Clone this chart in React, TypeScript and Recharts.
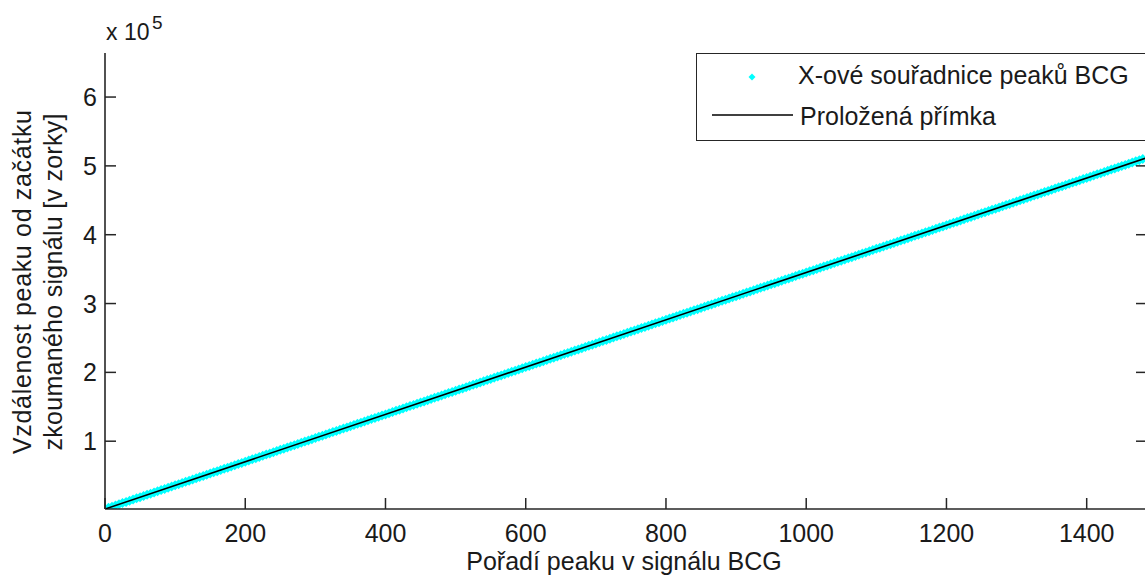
import React from 'react';
import { ComposedChart, Scatter, Line, XAxis, YAxis, Legend } from 'recharts';

// ---- data ----
const peakOrder = [
  0, 5, 10, 15, 20, 25, 30, 35, 40, 45, 50, 55, 60, 65, 70, 75, 80, 85, 90, 95,
  100, 105, 110, 115, 120, 125, 130, 135, 140, 145, 150, 155, 160, 165, 170, 175, 180, 185, 190, 195,
  200, 205, 210, 215, 220, 225, 230, 235, 240, 245, 250, 255, 260, 265, 270, 275, 280, 285, 290, 295,
  300, 305, 310, 315, 320, 325, 330, 335, 340, 345, 350, 355, 360, 365, 370, 375, 380, 385, 390, 395,
  400, 405, 410, 415, 420, 425, 430, 435, 440, 445, 450, 455, 460, 465, 470, 475, 480, 485, 490, 495,
  500, 505, 510, 515, 520, 525, 530, 535, 540, 545, 550, 555, 560, 565, 570, 575, 580, 585, 590, 595,
  600, 605, 610, 615, 620, 625, 630, 635, 640, 645, 650, 655, 660, 665, 670, 675, 680, 685, 690, 695,
  700, 705, 710, 715, 720, 725, 730, 735, 740, 745, 750, 755, 760, 765, 770, 775, 780, 785, 790, 795,
  800, 805, 810, 815, 820, 825, 830, 835, 840, 845, 850, 855, 860, 865, 870, 875, 880, 885, 890, 895,
  900, 905, 910, 915, 920, 925, 930, 935, 940, 945, 950, 955, 960, 965, 970, 975, 980, 985, 990, 995,
  1000, 1005, 1010, 1015, 1020, 1025, 1030, 1035, 1040, 1045, 1050, 1055, 1060, 1065, 1070, 1075, 1080, 1085, 1090, 1095,
  1100, 1105, 1110, 1115, 1120, 1125, 1130, 1135, 1140, 1145, 1150, 1155, 1160, 1165, 1170, 1175, 1180, 1185, 1190, 1195,
  1200, 1205, 1210, 1215, 1220, 1225, 1230, 1235, 1240, 1245, 1250, 1255, 1260, 1265, 1270, 1275, 1280, 1285, 1290, 1295,
  1300, 1305, 1310, 1315, 1320, 1325, 1330, 1335, 1340, 1345, 1350, 1355, 1360, 1365, 1370, 1375, 1380, 1385, 1390, 1395,
  1400, 1405, 1410, 1415, 1420, 1425, 1430, 1435, 1440, 1445, 1450, 1455, 1460, 1465, 1470, 1475, 1480,
];
const peakPosition = [
  1500, 3200, 4900, 6700, 8400, 10100, 11800, 13500, 15200, 17000, 18700, 20400, 22100, 23800, 25600, 27300, 29000, 30700, 32400, 34100,
  35900, 37600, 39300, 41000, 42700, 44500, 46200, 47900, 49600, 51300, 53000, 54800, 56500, 58200, 59900, 61600, 63300, 65100, 66800, 68500,
  70200, 71900, 73700, 75400, 77100, 78800, 80500, 82200, 84000, 85700, 87400, 89100, 90800, 92600, 94300, 96000, 97700, 99400, 101100, 102900,
  104600, 106300, 108000, 109700, 111500, 113200, 114900, 116600, 118300, 120000, 121800, 123500, 125200, 126900, 128600, 130400, 132100, 133800, 135500, 137200,
  138900, 140700, 142400, 144100, 145800, 147500, 149200, 151000, 152700, 154400, 156100, 157800, 159600, 161300, 163000, 164700, 166400, 168100, 169900, 171600,
  173300, 175000, 176700, 178500, 180200, 181900, 183600, 185300, 187000, 188800, 190500, 192200, 193900, 195600, 197400, 199100, 200800, 202500, 204200, 205900,
  207700, 209400, 211100, 212800, 214500, 216300, 218000, 219700, 221400, 223100, 224800, 226600, 228300, 230000, 231700, 233400, 235100, 236900, 238600, 240300,
  242000, 243700, 245500, 247200, 248900, 250600, 252300, 254000, 255800, 257500, 259200, 260900, 262600, 264400, 266100, 267800, 269500, 271200, 272900, 274700,
  276400, 278100, 279800, 281500, 283300, 285000, 286700, 288400, 290100, 291800, 293600, 295300, 297000, 298700, 300400, 302200, 303900, 305600, 307300, 309000,
  310700, 312500, 314200, 315900, 317600, 319300, 321000, 322800, 324500, 326200, 327900, 329600, 331400, 333100, 334800, 336500, 338200, 339900, 341700, 343400,
  345100, 346800, 348500, 350300, 352000, 353700, 355400, 357100, 358800, 360600, 362300, 364000, 365700, 367400, 369200, 370900, 372600, 374300, 376000, 377700,
  379500, 381200, 382900, 384600, 386300, 388100, 389800, 391500, 393200, 394900, 396600, 398400, 400100, 401800, 403500, 405200, 406900, 408700, 410400, 412100,
  413800, 415500, 417300, 419000, 420700, 422400, 424100, 425800, 427600, 429300, 431000, 432700, 434400, 436200, 437900, 439600, 441300, 443000, 444700, 446500,
  448200, 449900, 451600, 453300, 455100, 456800, 458500, 460200, 461900, 463600, 465400, 467100, 468800, 470500, 472200, 474000, 475700, 477400, 479100, 480800,
  482500, 484300, 486000, 487700, 489400, 491100, 492800, 494600, 496300, 498000, 499700, 501400, 503200, 504900, 506600, 508300, 510000,
];
const fitOrder = [0, 1486];
const fitPosition = [1500, 512000];

const xTicks = [0, 200, 400, 600, 800, 1000, 1200, 1400];
const yTicks = [100000, 200000, 300000, 400000, 500000, 600000];
const yTickLabels = ['1', '2', '3', '4', '5', '6'];
const xDomain = [0, 1486];
const yDomain = [1500, 664000];

const seriesNames = ['X-ové souřadnice peaků BCG', 'Proložená přímka'];
const xTitle = 'Pořadí peaku v signálu BCG';
const yTitleLines = ['Vzdálenost peaku od začátku', 'zkoumaného signálu [v zorky]'];
const yScaleBase = 'x 10';
const yScaleExp = '5';

const scatterData = peakOrder.map((x, i) => ({ x, y: peakPosition[i] }));
const fitData = fitOrder.map((x, i) => ({ x, y: fitPosition[i] }));

// ---- styles ----
const FONT = '"Liberation Sans", Arial, Helvetica, sans-serif';
const AXIS = '#262626';
const TEXT = '#1a1a1a';
const CYAN = '#00ffff';
const TL = 11;

const BottomTick = (p: any) => (
  <g>
    <line x1={p.x} y1={p.y} x2={p.x} y2={p.y - TL} stroke={AXIS} strokeWidth={1.5} />
    <text x={p.x} y={p.y + 33} textAnchor="middle" fontSize={25} fontFamily={FONT} fill={TEXT}>
      {p.payload.value}
    </text>
  </g>
);
const TopTick = (p: any) => (
  <line x1={p.x} y1={p.y} x2={p.x} y2={p.y + TL} stroke={AXIS} strokeWidth={1.5} />
);
const LeftTick = (p: any) => (
  <g>
    <line x1={p.x} y1={p.y} x2={p.x + TL} y2={p.y} stroke={AXIS} strokeWidth={1.5} />
    <text x={p.x - 8} y={p.y + 9} textAnchor="end" fontSize={25} fontFamily={FONT} fill={TEXT}>
      {yTickLabels[yTicks.indexOf(p.payload.value)]}
    </text>
  </g>
);
const RightTick = (p: any) => (
  <line x1={p.x} y1={p.y} x2={p.x - TL} y2={p.y} stroke={AXIS} strokeWidth={1.5} />
);

const XTitle = (props: any) => {
  const vb = props.viewBox || { x: 105, y: 509, width: 1042, height: 72 };
  return (
    <text x={vb.x + vb.width / 2 - 2} y={vb.y + 61} textAnchor="middle" fontSize={25} fontFamily={FONT} fill={TEXT}>
      {xTitle}
    </text>
  );
};

const YTitle = (props: any) => {
  const vb = props.viewBox || { x: 0, y: 53, width: 105, height: 456 };
  const cy = vb.y + vb.height / 2 + 1;
  return (
    <g>
      <text transform={`translate(31, ${cy}) rotate(-90)`} textAnchor="middle" fontSize={25} fontFamily={FONT} fill={TEXT} textLength={344} lengthAdjust="spacing">
        {yTitleLines[0]}
      </text>
      <text transform={`translate(62, ${cy}) rotate(-90)`} textAnchor="middle" fontSize={25} fontFamily={FONT} fill={TEXT} textLength={337} lengthAdjust="spacing">
        {yTitleLines[1]}
      </text>
      <text x={106} y={40} fontSize={23} fontFamily={FONT} fill={TEXT}>{yScaleBase}</text>
      <text x={152} y={29} fontSize={19} fontFamily={FONT} fill={TEXT}>{yScaleExp}</text>
    </g>
  );
};

const Diamond = (p: any) => {
  const { cx, cy } = p;
  const r = 5;
  return <polygon points={`${cx},${cy - r} ${cx + r},${cy} ${cx},${cy + r} ${cx - r},${cy}`} fill={CYAN} />;
};

const renderLegend = () => (
  <div
    style={{
      position: 'relative',
      width: 470,
      height: 88,
      border: `1.5px solid ${AXIS}`,
      boxSizing: 'border-box',
      background: '#fff',
      fontFamily: FONT,
      fontSize: 25,
      color: TEXT,
    }}
  >
    <svg style={{ position: 'absolute', left: 0, top: 0 }} width={110} height={86}>
      <polygon points="55,19.5 58.5,23 55,26.5 51.5,23" fill={CYAN} />
      <line x1={15} y1={61} x2={96} y2={61} stroke="#000" strokeWidth={1.5} />
    </svg>
    <span style={{ position: 'absolute', left: 101, top: 9, lineHeight: '25px', whiteSpace: 'nowrap' }}>{seriesNames[0]}</span>
    <span style={{ position: 'absolute', left: 103, top: 50, lineHeight: '25px', whiteSpace: 'nowrap' }}>{seriesNames[1]}</span>
  </div>
);

export default function App() {
  return (
    <div style={{ position: 'fixed', left: 0, top: 0, width: 1145, height: 581, overflow: 'hidden', background: '#fff' }}>
      <ComposedChart width={1160} height={581} margin={{ top: 53, right: 0, bottom: 0, left: 0 }}>
        <XAxis
          dataKey="x"
          type="number"
          domain={xDomain}
          ticks={xTicks}
          interval={0}
          allowDataOverflow
          height={72}
          tickSize={0}
          tickMargin={0}
          tickLine={false}
          tick={BottomTick}
          axisLine={{ stroke: AXIS, strokeWidth: 1.6 }}
          label={<XTitle />}
        />
        <XAxis
          xAxisId="top"
          orientation="top"
          dataKey="x"
          type="number"
          domain={xDomain}
          ticks={xTicks}
          interval={0}
          allowDataOverflow
          height={0}
          tickSize={0}
          tickMargin={0}
          tickLine={false}
          tick={TopTick}
          axisLine={{ stroke: AXIS, strokeWidth: 1.6 }}
        />
        <YAxis
          type="number"
          domain={yDomain}
          ticks={yTicks}
          interval={0}
          allowDataOverflow
          width={105}
          tickSize={0}
          tickMargin={0}
          tickLine={false}
          tick={LeftTick}
          axisLine={{ stroke: AXIS, strokeWidth: 1.6 }}
          label={<YTitle />}
        />
        <YAxis
          yAxisId="right"
          orientation="right"
          type="number"
          domain={yDomain}
          ticks={yTicks}
          interval={0}
          allowDataOverflow
          width={13}
          tickSize={0}
          tickMargin={0}
          tickLine={false}
          tick={RightTick}
          axisLine={{ stroke: AXIS, strokeWidth: 1.6 }}
        />
        <Scatter
          name={seriesNames[0]}
          data={scatterData}
          dataKey="y"
          shape={Diamond}
          zIndex={400}
          isAnimationActive={false}
        />
        <Line
          name={seriesNames[1]}
          data={fitData}
          dataKey="y"
          type="linear"
          stroke="#000"
          strokeWidth={1.6}
          dot={false}
          activeDot={false}
          zIndex={700}
          isAnimationActive={false}
        />
        <Legend
          layout="vertical"
          align="center"
          verticalAlign="middle"
          content={renderLegend}
          wrapperStyle={{ left: 696, top: 53, width: 470, height: 88, margin: 0 }}
        />
      </ComposedChart>
    </div>
  );
}
